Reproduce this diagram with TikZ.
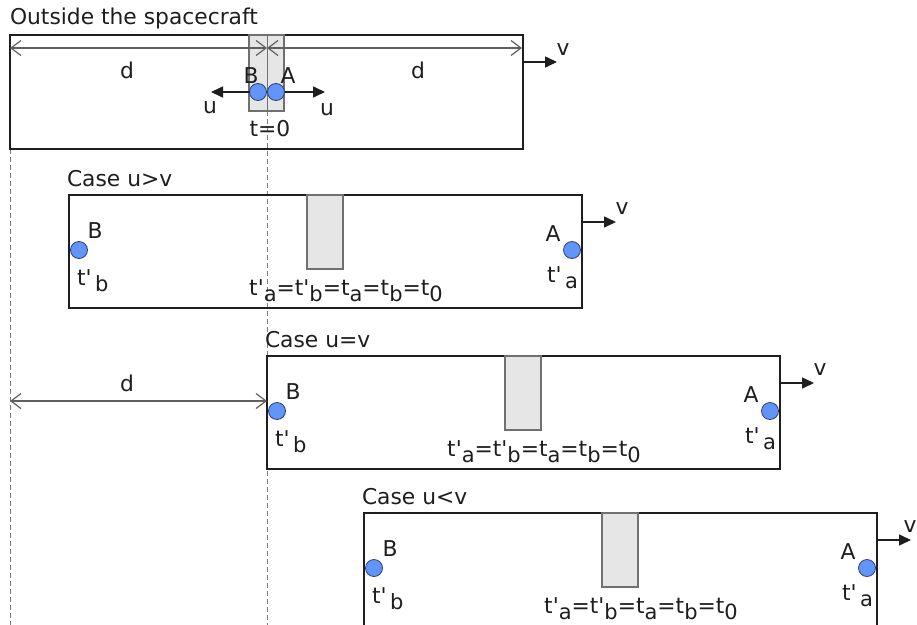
\documentclass[tikz,border=0pt]{standalone}
\usepackage{fontspec}
\setmainfont{DejaVu Sans}[Ligatures=TeXOff]
\usetikzlibrary{arrows.meta}
\definecolor{dotfill}{RGB}{98,148,250}
\definecolor{dotline}{RGB}{45,65,110}
\definecolor{seatfill}{RGB}{230,230,230}
\definecolor{seatline}{RGB}{112,112,112}
\definecolor{dimline}{RGB}{95,95,95}
\definecolor{guideline}{RGB}{125,125,125}
\definecolor{boxline}{RGB}{30,30,30}
\newcommand\sub[1]{\raisebox{-6pt}{\fontsize{21}{20}\selectfont #1}}
\tikzset{
  every node/.style={inner sep=0pt, outer sep=0pt, font=\fontsize{21.8}{26}\selectfont, text=boxline},
  craft/.style={draw=boxline, line width=1.5pt},
  seat/.style={draw=seatline, fill=seatfill, line width=1.1pt},
  dot/.style={circle, draw=dotline, fill=dotfill, line width=0.8pt, minimum size=17pt},
  vel/.style={draw=boxline, line width=1.5pt, -{Triangle[length=12pt,width=11pt]}},
  dim/.style={draw=dimline, line width=1.2pt, {Straight Barb[length=10pt,width=15pt]}-{Straight Barb[length=10pt,width=15pt]}},
  guide/.style={draw=guideline, line width=1pt, dash pattern=on 5pt off 3pt},
}
\newcommand\casepanel[5]{%
  \node[craft, anchor=north west, minimum width=513pt, minimum height=113pt] (#1box) at (#2,#3) {};
  \node[seat, anchor=north west, minimum width=36pt, minimum height=74pt] (#1seat) at ({#2+238},#3) {};
  \node[anchor=base west] (#1title) at ({#2-2},{#3-9}) {#4};
  \node[dot] (#1B) at ({#2+10},{#3+55}) {};
  \node[dot] (#1A) at ({#2+503},{#3+55}) {};
  \node[anchor=base] (#1Bl) at ({#2+26},{#3+43}) {B};
  \node[anchor=base] (#1Al) at ({#2+484},{#3+46}) {A};
  \node[anchor=base west] (#1tb) at ({#2+8},{#3+90}) {t'\,\sub{b}};
  \node[anchor=base west] (#1ta) at ({#2+478},{#3+87}) {t'\,\sub{a}};
  \node[anchor=base] (#1eq) at ({#2+277},{#3+100}) {t'\sub{a}=t'\sub{b}=t\sub{a}=t\sub{b}=t\sub{0}};
  \coordinate (#1vs) at ({#2+513},{#3+27});
  \coordinate (#1ve) at ({#2+547},{#3+27});
  \draw[vel] (#1vs) -- (#1ve);
  \node (#1v) at ({#2+#5},{#3+14}) {v};
}
\begin{document}
\begin{tikzpicture}[x=1pt,y=-1pt]
\useasboundingbox (0,0) rectangle (917,624);
% guide lines
\coordinate (gL1) at (10,149);
\coordinate (gL2) at (10,630);
\coordinate (gC0) at (267,35);
\coordinate (gC1) at (267,111);
\coordinate (gC2) at (267,630);
\draw[guide] (gL1) -- (gL2);
\draw[guide] (gC1) -- (gC2);
% top panel
\node[anchor=base west] (title0) at (10,24) {Outside the spacecraft};
\node[craft, anchor=north west, minimum width=513pt, minimum height=114pt] (box0) at (10,35) {};
\node[seat, anchor=north west, minimum width=35pt, minimum height=76pt] (seat0) at (249,35) {};
\draw[draw=seatline, line width=1pt] (gC0) -- (gC1);
\coordinate (dL) at (10,48);
\coordinate (dM) at (267,48);
\coordinate (dR) at (522,48);
\draw[dim] (dL) -- (dM);
\draw[dim] (dM) -- (dR);
\node (d1) at (127,70) {d};
\node (d2) at (418,70) {d};
\node[anchor=base] (B0l) at (251,83) {B};
\node[anchor=base] (A0l) at (288,83) {A};
\node[dot] (B0) at (258,92) {};
\node[dot] (A0) at (276,92) {};
\coordinate (uL) at (211,92);
\coordinate (uR) at (325,92);
\draw[vel] (B0.west) -- (uL);
\draw[vel] (A0.east) -- (uR);
\node (u1) at (210,108) {u};
\node (u2) at (327,110) {u};
\node (t0) at (270,129) {t=0};
\coordinate (v0s) at (523,62);
\coordinate (v0e) at (557,62);
\draw[vel] (v0s) -- (v0e);
\node (v0) at (563,50) {v};
% cases
\casepanel{c1}{69}{195}{Case u>v}{553}
\casepanel{c2}{267}{356}{Case u=v}{553}
\casepanel{c3}{364}{513}{Case u<v}{546}
% distance d in case 2
\coordinate (dd1) at (10,401);
\draw[dim] (dd1) -- (c2box.west |- dd1);
\node (d3) at (127,383) {d};
\end{tikzpicture}
\end{document}
